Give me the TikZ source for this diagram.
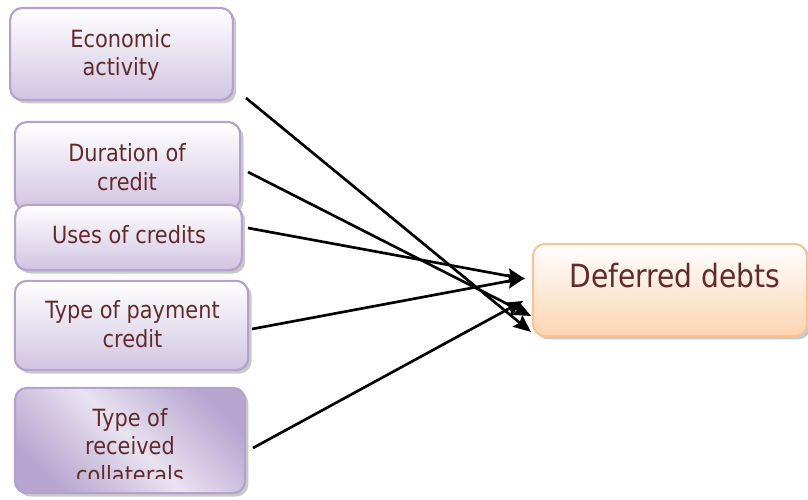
\documentclass[tikz,border=0pt]{standalone}
\usepackage{fontspec}
\setmainfont{DejaVu Sans}[FakeStretch=0.88]
\usetikzlibrary{arrows.meta,shadows}
\definecolor{txt}{RGB}{100,42,42}
\definecolor{lavb}{RGB}{178,162,205}
\definecolor{lavf}{RGB}{208,196,226}
\definecolor{lavd}{RGB}{184,166,208}
\definecolor{lavm}{RGB}{232,226,240}
\definecolor{peachb}{RGB}{248,196,150}
\definecolor{peachf}{RGB}{252,212,178}
\tikzset{
  boxshadow/.style={drop shadow={shadow xshift=2.5pt, shadow yshift=-2.5pt, fill=black!70, opacity=0.3}},
  lbox/.style={draw=lavb, line width=1.6pt, rounded corners=9pt, top color=white, bottom color=lavf, boxshadow, inner sep=0pt},
  dbox/.style={draw=lavb, line width=1.6pt, rounded corners=9pt, left color=lavd, right color=lavd, middle color=lavm, shading angle=135, boxshadow, inner sep=0pt},
  pbox/.style={draw=peachb, line width=1.6pt, rounded corners=9pt, top color=white, bottom color=peachf, boxshadow, inner sep=0pt},
  lbl/.style={text=txt, font=\fontsize{17.8}{21.5}\selectfont, align=center, inner sep=0pt},
  biglbl/.style={text=txt, font=\fontsize{24}{28}\selectfont, inner sep=0pt},
  arr/.style={-{Stealth[length=13pt,width=11pt,inset=2pt]}, line width=2pt, black},
}
\begin{document}
\begin{tikzpicture}[x=0.75pt,y=-0.75pt]
\useasboundingbox (0,0) rectangle (808,500);
% boxes
\node[lbox, minimum width=167pt, minimum height=69pt] (eco) at (121.5,54) {};
\node[lbox, minimum width=169pt, minimum height=66pt] (dur) at (127.5,166) {};
\node[lbox, minimum width=170pt, minimum height=49pt] (use) at (128.5,237.5) {};
\node[lbox, minimum width=175pt, minimum height=67pt] (pay) at (131.5,325.5) {};
\node[dbox, minimum width=172.5pt, minimum height=79pt] (col) at (130,440.5) {};
\node[pbox, minimum width=205.5pt, minimum height=69pt] (def) at (670,290) {};
% labels
\node[lbl] (ecot) at (121,55) {Economic\\activity};
\node[lbl] (durt) at (127,167) {Duration of\\credit};
\node[lbl] (uset) at (129,235) {Uses of credits};
\node[lbl] (payt) at (132.5,324) {Type of payment\\credit};
\begin{scope}
\clip (0,388) rectangle (260,478);
\node[lbl] (colt) at (130,446) {Type of\\received\\collaterals};
\end{scope}
\node[biglbl] (deft) at (675,276) {Deferred debts};
% connector end points
\coordinate (s1) at (246,98);  \coordinate (t1) at (531,332);
\coordinate (s2) at (248,172); \coordinate (t2) at (531,316);
\coordinate (s3) at (248,228); \coordinate (t3) at (525,279);
\coordinate (s4) at (252,329); \coordinate (t4) at (525,278);
\coordinate (s5) at (253,448); \coordinate (t5) at (523,301);
\draw[arr] (s1) -- (t1);
\draw[arr] (s2) -- (t2);
\draw[arr] (s3) -- (t3);
\draw[arr] (s4) -- (t4);
\draw[arr] (s5) -- (t5);
\end{tikzpicture}
\end{document}
